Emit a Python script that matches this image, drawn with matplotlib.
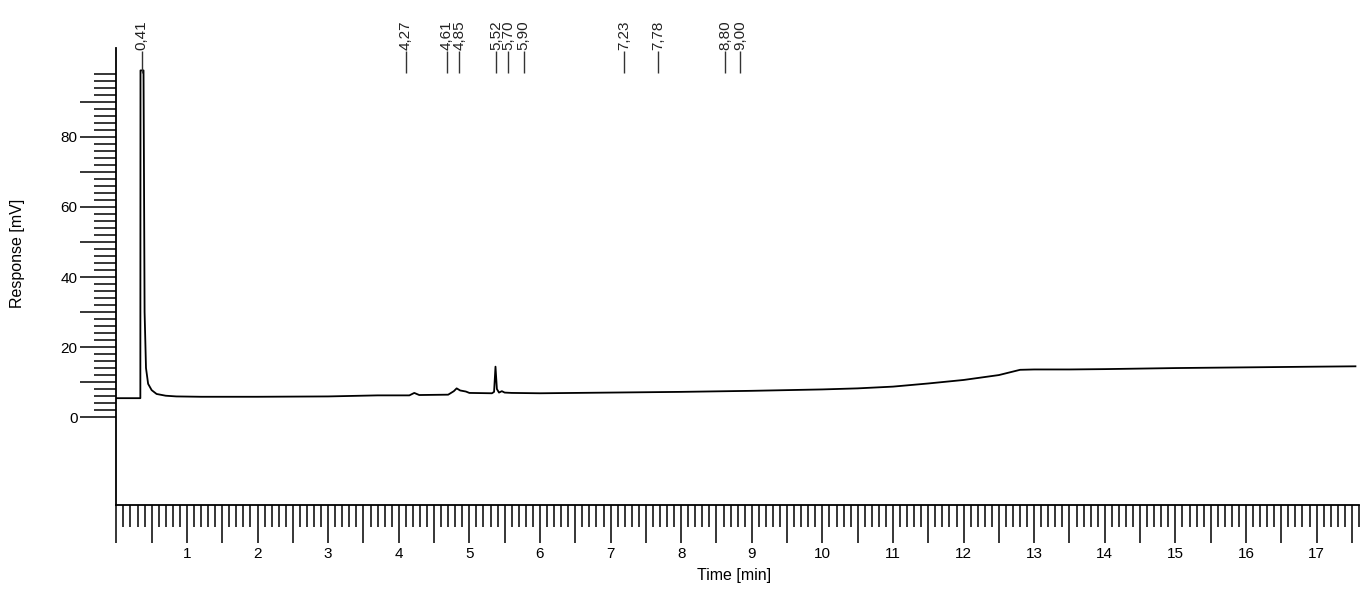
import numpy as np
import matplotlib
matplotlib.use('Agg')
import matplotlib.pyplot as plt
import matplotlib.transforms as mtransforms

plt.rcParams['font.family'] = ['Liberation Sans', 'DejaVu Sans']

# chromatogram trace (time in min, response in mV)
time_min = [0.0, 0.34, 0.342, 0.385, 0.40, 0.42, 0.45, 0.50, 0.57, 0.70, 0.85, 1.2, 2.0, 3.0,
            3.7, 4.15, 4.22, 4.29, 4.70, 4.78, 4.82, 4.87, 4.95, 5.0, 5.32, 5.35, 5.37, 5.39,
            5.42, 5.46, 5.5, 5.6, 6.0, 7.0, 8.0, 9.0, 10.0, 10.5, 11.0, 11.5, 12.0, 12.5, 12.8,
            13.0, 13.5, 14.0, 15.0, 16.0, 17.0, 17.55]
response_mv = [5.4, 5.4, 99.0, 99.0, 30.0, 14.0, 9.5, 7.7, 6.6, 6.1, 5.9, 5.8, 5.8, 5.9,
               6.2, 6.2, 6.9, 6.3, 6.4, 7.4, 8.2, 7.6, 7.3, 6.9, 6.8, 7.2, 14.4, 8.0,
               7.0, 7.4, 7.0, 6.9, 6.8, 7.0, 7.2, 7.5, 7.9, 8.2, 8.7, 9.6, 10.6, 12.0, 13.5,
               13.6, 13.6, 13.7, 14.0, 14.2, 14.4, 14.5]

# peak annotations (position on the time axis and printed retention time)
peak_pos = [0.36, 4.10, 4.68, 4.86, 5.38, 5.55, 5.77, 7.19, 7.67, 8.62, 8.83]
peak_labels = ['0,41', '4,27', '4,61', '4,85', '5,52', '5,70', '5,90', '7,23', '7,78', '8,80', '9,00']

fig = plt.figure(figsize=(13.72, 5.92), dpi=100)
ax = fig.add_axes([0.0848, 0.147, 0.9057, 0.7719])

ax.plot(time_min, response_mv, color='black', linewidth=1.3)

ax.set_xlim(0, 17.6)
ax.set_ylim(-25.1, 105.4)

for side in ['top', 'right']:
    ax.spines[side].set_visible(False)
for side in ['left', 'bottom']:
    ax.spines[side].set_linewidth(1.3)

# x axis: labels at whole minutes, long ticks at halves, short ticks every 0.1 min
xmaj = np.arange(0, 17.51, 0.5)
ax.set_xticks(xmaj)
ax.set_xticklabels(['' if (i % 2 == 1 or i == 0) else str(i // 2) for i in range(len(xmaj))])
ax.set_xticks(np.arange(0, 17.61, 0.1), minor=True)
ax.tick_params(axis='x', which='major', direction='out', length=27, width=1.1, labelsize=11, pad=3)
ax.tick_params(axis='x', which='minor', direction='out', length=16, width=1.1)

# y axis: labels every 20 mV, long ticks every 10, short ticks every 2
ax.set_yticks(np.arange(0, 91, 10))
ax.set_yticklabels(['0', '', '20', '', '40', '', '60', '', '80', ''])
ax.set_yticks(np.arange(0, 99, 2), minor=True)
ax.tick_params(axis='y', which='major', direction='out', length=26, width=1.1, labelsize=11, pad=2)
ax.tick_params(axis='y', which='minor', direction='out', length=16, width=1.1)

ax.set_xlabel('Time [min]', fontsize=11.5)
ax.xaxis.set_label_coords(0.497, -0.138)
ax.set_ylabel('Response [mV]', fontsize=11.5)
ax.yaxis.set_label_coords(-0.0735, 0.55)

trans = mtransforms.blended_transform_factory(ax.transData, ax.transAxes)
ax.vlines(peak_pos, 0.945, 0.994, colors='#333333', linewidth=1.0, transform=trans, clip_on=False)
for pos, lab in zip(peak_pos, peak_labels):
    ax.text(pos, 0.996, lab, rotation=90, ha='center', va='bottom',
            fontsize=11, color='#222222', transform=trans, clip_on=False)

fig.savefig('out.png', dpi=100)
